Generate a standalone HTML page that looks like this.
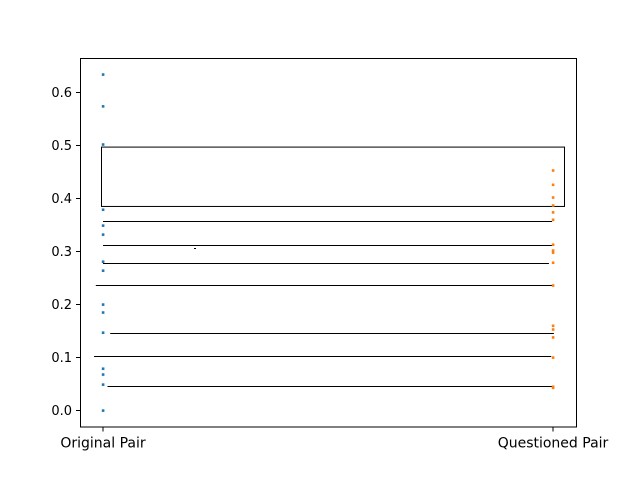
<!DOCTYPE html>
<html><head><meta charset="utf-8"><style>
body{margin:0;background:#fff;}
svg{display:block;font-family:"DejaVu Sans","Liberation Sans",sans-serif;}
</style></head><body>
<svg id="chart" width="640" height="480">
<rect x="80.5" y="58.5" width="496" height="368.5" fill="#fff" stroke="#000" stroke-width="1"/>
<g id="marks"></g>
<g id="axes"></g>
</svg>
<script>
const categories = ["Original Pair", "Questioned Pair"];
const originalValues = [0.634,0.574,0.502,0.379,0.349,0.332,0.281,0.264,0.200,0.185,0.147,0.079,0.068,0.049,0.0];
const questionedValues = [0.453,0.426,0.402,0.387,0.374,0.360,0.313,0.302,0.298,0.279,0.236,0.160,0.153,0.138,0.100,0.045,0.043];
const yTicks = [0.0,0.1,0.2,0.3,0.4,0.5,0.6];
const yTickLabels = ["0.0","0.1","0.2","0.3","0.4","0.5","0.6"];
const hLineValues = [0.358,0.313,0.278,0.236,0.147,0.102,0.047];
const hLineStarts = [0.0,0.0,0.0,-0.016,0.016,-0.02,0.01];
const hLineEnds = [0.998,1.0,0.991,1.0,1.002,0.996,0.998];
const boxRange = [0.385,0.497];

const NS="http://www.w3.org/2000/svg";
const x=i=>103+i*450;
const y=v=>410.5-530*v;
const marks=document.getElementById('marks');
const axes=document.getElementById('axes');
function mk(t,a,p){const e=document.createElementNS(NS,t);for(const k in a)e.setAttribute(k,a[k]);p.appendChild(e);return e;}

const box=mk('rect',{x:101.5,y:y(boxRange[1]),width:463,height:y(boxRange[0])-y(boxRange[1]),fill:'none',stroke:'#000','stroke-width':1},marks);


hLineValues.forEach((v,i)=>{
  const l=mk('line',{x1:x(hLineStarts[i]),x2:x(hLineEnds[i]),y1:Math.round(y(v))+0.5,y2:Math.round(y(v))+0.5,stroke:'#000','stroke-width':1},marks);
  
  
});
const dash=mk('line',{x1:194,x2:196,y1:248.5,y2:248.5,stroke:'#000','stroke-width':1},marks);



[[originalValues,'#1f77b4',0],[questionedValues,'#ff7f0e',1]].forEach(([vals,c,ci])=>{
  vals.forEach(v=>{
    const p=mk('rect',{x:x(ci)-1.2,y:y(v)-1.2,width:2.6,height:2.6,fill:c},marks);
    
    
  });
});

yTicks.forEach((v,i)=>{
  const yy=y(v);
  mk('line',{x1:76,x2:80.5,y1:yy,y2:yy,stroke:'#000','stroke-width':1},axes);
  const t=mk('text',{x:72,y:yy+4.5,'text-anchor':'end','font-size':13},axes);
  t.textContent=yTickLabels[i];
  
  
});
categories.forEach((c,i)=>{
  mk('line',{x1:x(i),x2:x(i),y1:427,y2:431.5,stroke:'#000','stroke-width':1},axes);
  const t=mk('text',{x:x(i),y:447.5,'text-anchor':'middle','font-size':14},axes);
  t.textContent=c;
  
  
});
</script>
</body></html>
